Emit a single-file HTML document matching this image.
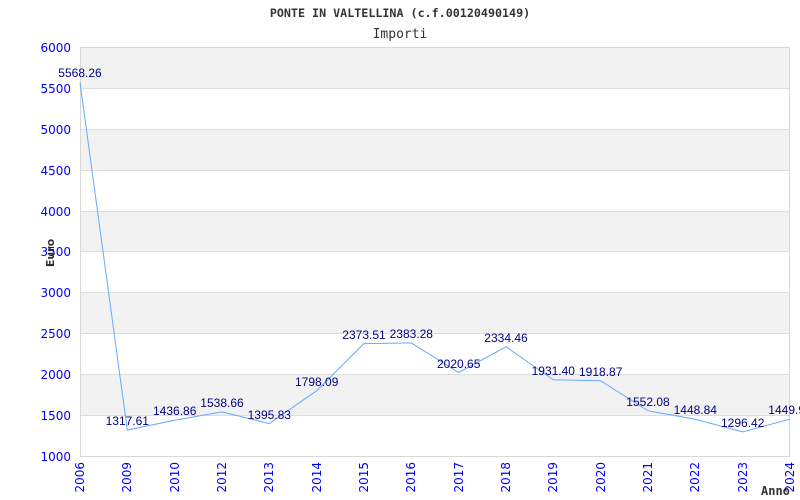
<!DOCTYPE html>
<html><head><meta charset="utf-8"><style>body{margin:0;background:#fff}svg{display:block}</style></head><body>
<svg width="800" height="500" xmlns="http://www.w3.org/2000/svg">
<rect width="800" height="500" fill="#fff"/>
<g fill="#f2f2f2">
<rect x="80" y="47" width="710" height="41"/>
<rect x="80" y="129" width="710" height="41"/>
<rect x="80" y="211" width="710" height="41"/>
<rect x="80" y="292" width="710" height="41"/>
<rect x="80" y="374" width="710" height="41"/>
</g>
<g stroke="#dddddd" stroke-width="1">
<line x1="80" y1="88.5" x2="790" y2="88.5"/><line x1="80" y1="129.5" x2="790" y2="129.5"/>
<line x1="80" y1="170.5" x2="790" y2="170.5"/><line x1="80" y1="211.5" x2="790" y2="211.5"/>
<line x1="80" y1="251.5" x2="790" y2="251.5"/><line x1="80" y1="292.5" x2="790" y2="292.5"/>
<line x1="80" y1="333.5" x2="790" y2="333.5"/><line x1="80" y1="374.5" x2="790" y2="374.5"/>
<line x1="80" y1="415.5" x2="790" y2="415.5"/>
</g>
<rect x="80.5" y="47.5" width="709" height="409" fill="none" stroke="#d8d8d8"/>
<text x="400" y="17" text-anchor="middle" font-family="DejaVu Sans Mono, monospace" font-weight="bold" font-size="11.7" fill="#333">PONTE IN VALTELLINA (c.f.00120490149)</text>
<text x="400" y="38" text-anchor="middle" font-family="DejaVu Sans Mono, monospace" font-size="13" fill="#333">Importi</text>
<g font-family="DejaVu Sans, sans-serif" font-size="12" fill="#0000ff" text-anchor="end">
<text x="71" y="52">6000</text><text x="71" y="93">5500</text><text x="71" y="134">5000</text>
<text x="71" y="175">4500</text><text x="71" y="216">4000</text><text x="71" y="256">3500</text>
<text x="71" y="297">3000</text><text x="71" y="338">2500</text><text x="71" y="379">2000</text>
<text x="71" y="420">1500</text><text x="71" y="461">1000</text>
</g>
<text transform="translate(54,253) rotate(-90)" text-anchor="middle" font-family="DejaVu Sans, sans-serif" font-weight="bold" font-size="11" fill="#333">Euro</text>
<text x="761" y="495" font-family="DejaVu Sans Mono, monospace" font-weight="bold" font-size="12" fill="#333">Anno</text>
<g font-family="DejaVu Sans, sans-serif" font-size="12" fill="#0000ff" text-anchor="end">
<text transform="translate(84,462) rotate(-90)">2006</text>
<text transform="translate(131,462) rotate(-90)">2009</text>
<text transform="translate(179,462) rotate(-90)">2010</text>
<text transform="translate(226,462) rotate(-90)">2012</text>
<text transform="translate(273,462) rotate(-90)">2013</text>
<text transform="translate(321,462) rotate(-90)">2014</text>
<text transform="translate(368,462) rotate(-90)">2015</text>
<text transform="translate(415,462) rotate(-90)">2016</text>
<text transform="translate(463,462) rotate(-90)">2017</text>
<text transform="translate(510,462) rotate(-90)">2018</text>
<text transform="translate(557,462) rotate(-90)">2019</text>
<text transform="translate(605,462) rotate(-90)">2020</text>
<text transform="translate(652,462) rotate(-90)">2021</text>
<text transform="translate(699,462) rotate(-90)">2022</text>
<text transform="translate(747,462) rotate(-90)">2023</text>
<text transform="translate(794,462) rotate(-90)">2024</text>
</g>
<polyline fill="none" stroke="#66aaff" stroke-width="1" points="80,82.3 127.3,430 174.7,420.3 222,411.9 269.3,423.6 316.7,390.7 364,343.6 411.3,342.9 458.7,372.5 506,346.8 553.3,379.8 600.7,380.8 648,410.8 695.3,419.3 742.7,431.8 790,419.2"/>
<g font-family="Liberation Sans, sans-serif" font-size="12" fill="#000080" text-anchor="middle">
<text x="80" y="77">5568.26</text>
<text x="127.3" y="425">1317.61</text>
<text x="174.7" y="415">1436.86</text>
<text x="222" y="407">1538.66</text>
<text x="269.3" y="419">1395.83</text>
<text x="316.7" y="386">1798.09</text>
<text x="364" y="339">2373.51</text>
<text x="411.3" y="338">2383.28</text>
<text x="458.7" y="368">2020.65</text>
<text x="506" y="342">2334.46</text>
<text x="553.3" y="375">1931.40</text>
<text x="600.7" y="376">1918.87</text>
<text x="648" y="406">1552.08</text>
<text x="695.3" y="414">1448.84</text>
<text x="742.7" y="427">1296.42</text>
<text x="790" y="414">1449.90</text>
</g>
</svg>
</body></html>
